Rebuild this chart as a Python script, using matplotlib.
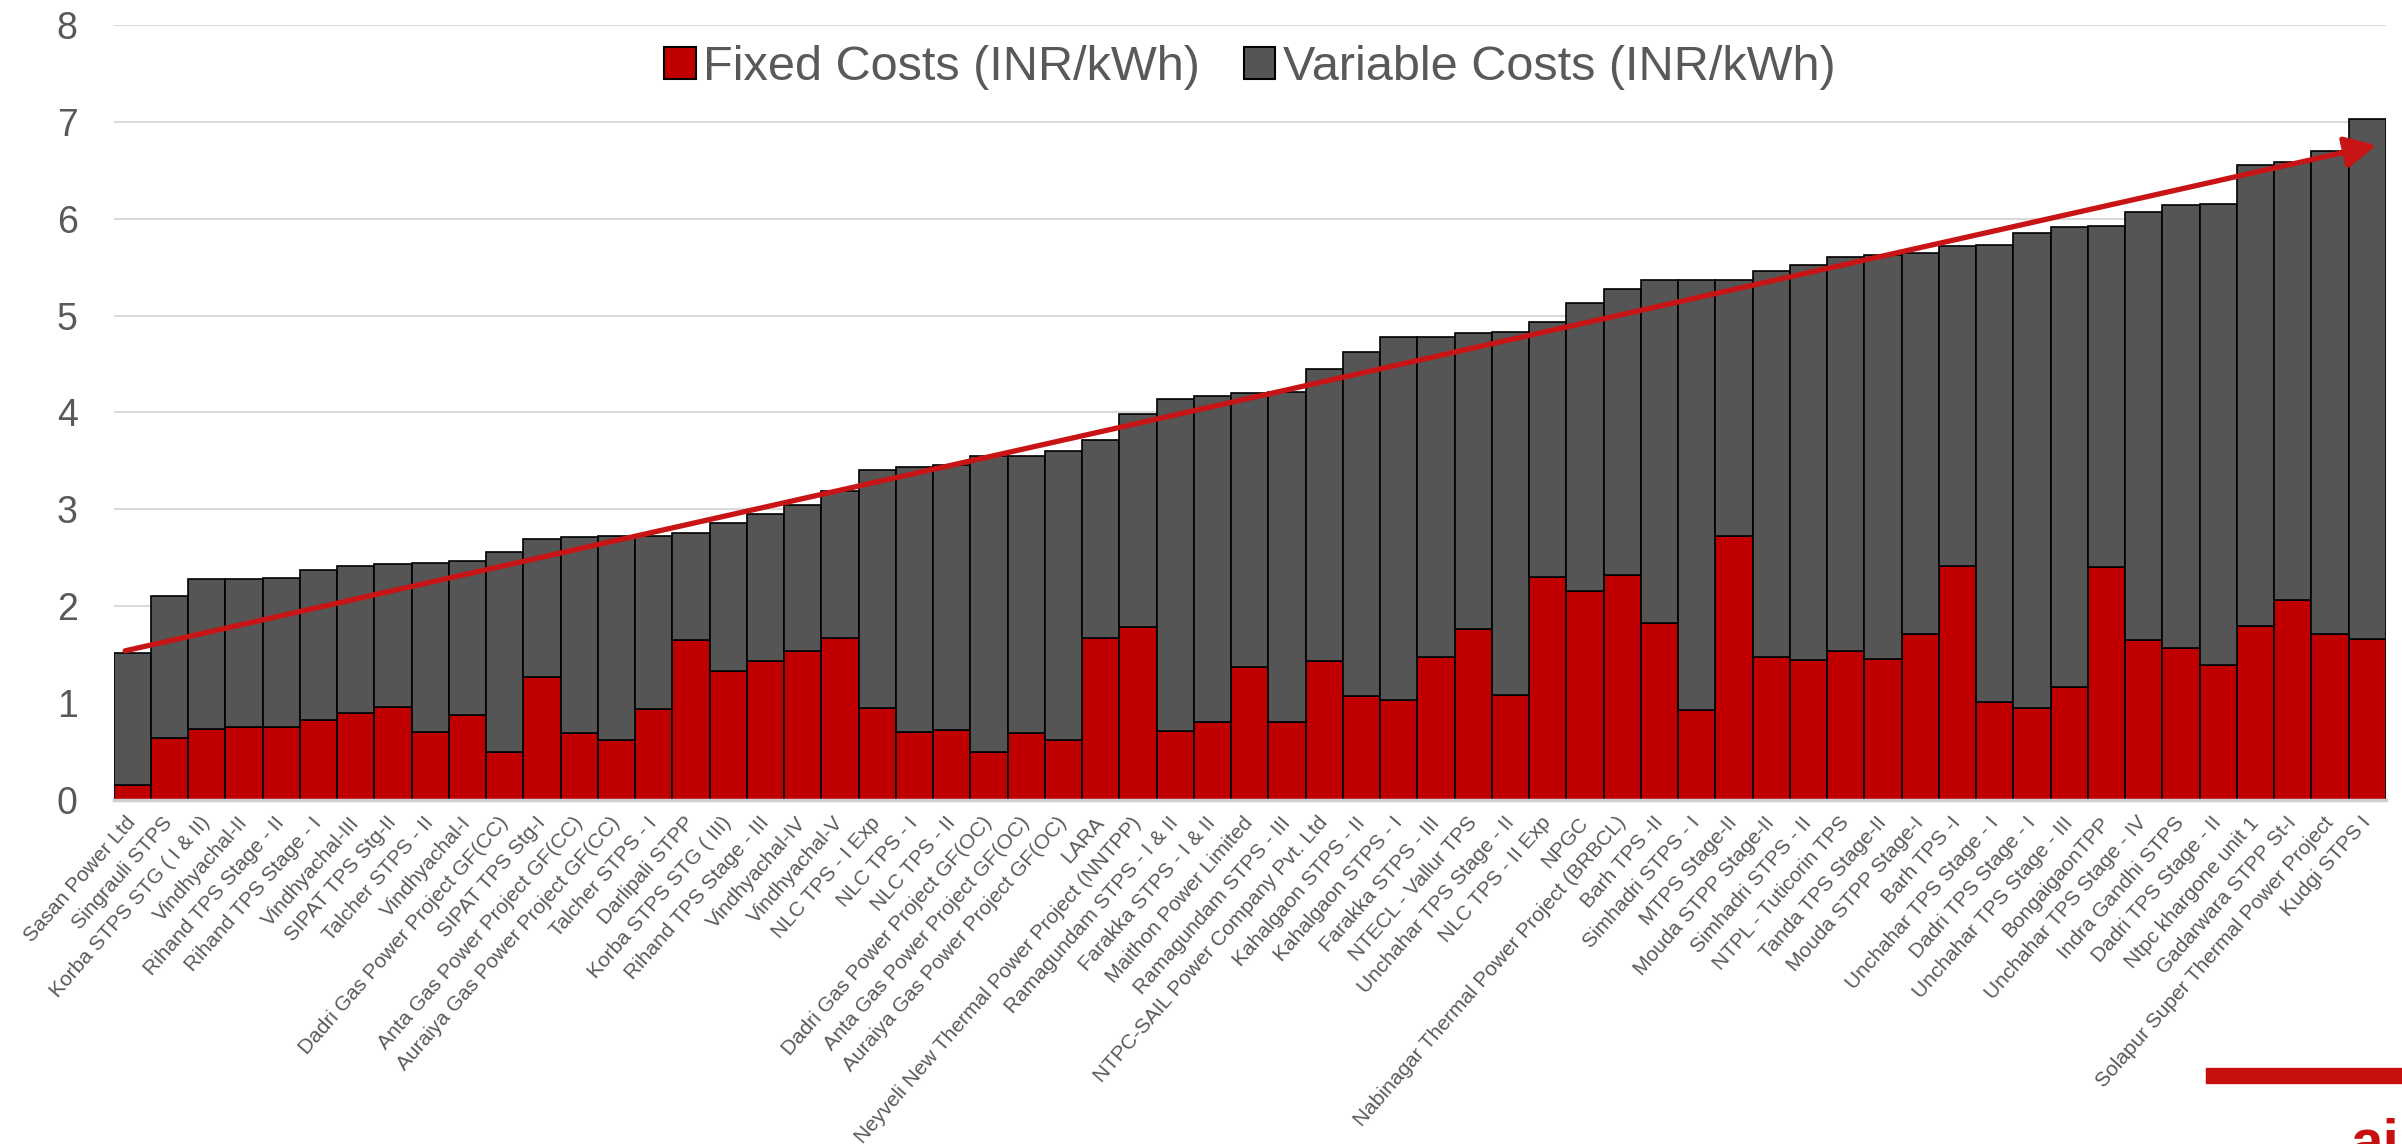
import matplotlib
matplotlib.use("Agg")
import matplotlib.pyplot as plt
import numpy as np

plt.rcParams['font.family'] = ['Liberation Sans', 'DejaVu Sans']

# stations, sorted by total cost
plants = [
    "Sasan Power Ltd", "Singrauli STPS", "Korba STPS STG ( I & II)", "Vindhyachal-II",
    "Rihand TPS Stage - II", "Rihand TPS Stage - I", "Vindhyachal-III", "SIPAT TPS Stg-II",
    "Talcher STPS - II", "Vindhyachal-I", "Dadri Gas Power Project GF(CC)", "SIPAT TPS Stg-I",
    "Anta Gas Power Project GF(CC)", "Auraiya Gas Power Project GF(CC)", "Talcher STPS - I",
    "Darlipali STPP", "Korba STPS STG ( III)", "Rihand TPS Stage - III", "Vindhyachal-IV",
    "Vindhyachal-V", "NLC TPS - I Exp", "NLC TPS - I", "NLC TPS - II",
    "Dadri Gas Power Project GF(OC)", "Anta Gas Power Project GF(OC)",
    "Auraiya Gas Power Project GF(OC)", "LARA", "Neyveli New Thermal Power Project (NNTPP)",
    "Ramagundam STPS - I & II", "Farakka STPS - I & II", "Maithon Power Limited",
    "Ramagundam STPS - III", "NTPC-SAIL Power Company Pvt. Ltd", "Kahalgaon STPS - II",
    "Kahalgaon STPS - I", "Farakka STPS - III", "NTECL - Vallur TPS", "Unchahar TPS Stage - II",
    "NLC TPS - II Exp", "NPGC", "Nabinagar Thermal Power Project (BRBCL)", "Barh TPS -II",
    "Simhadri STPS - I", "MTPS Stage-II", "Mouda STPP Stage-II", "Simhadri STPS - II",
    "NTPL - Tuticorin TPS", "Tanda TPS Stage-II", "Mouda STPP Stage-I", "Barh TPS -I",
    "Unchahar TPS Stage - I", "Dadri TPS Stage - I", "Unchahar TPS Stage - III", "BongaigaonTPP",
    "Unchahar TPS Stage - IV", "Indra Gandhi STPS", "Dadri TPS Stage - II", "Ntpc khargone unit 1",
    "Gadarwara STPP St-I", "Solapur Super Thermal Power Project", "Kudgi STPS I",
]

fixed = [
    0.15, 0.64, 0.73, 0.75, 0.75, 0.83, 0.90, 0.96, 0.70, 0.88,
    0.50, 1.27, 0.69, 0.62, 0.94, 1.65, 1.33, 1.43, 1.54, 1.67,
    0.95, 0.70, 0.72, 0.50, 0.69, 0.62, 1.67, 1.79, 0.71, 0.81,
    1.37, 0.81, 1.43, 1.07, 1.03, 1.48, 1.76, 1.08, 2.30, 2.16,
    2.32, 1.83, 0.93, 2.72, 1.48, 1.44, 1.54, 1.46, 1.71, 2.42,
    1.01, 0.95, 1.17, 2.40, 1.65, 1.57, 1.39, 1.80, 2.06, 1.71,
    1.66,
]

total = [
    1.52, 2.11, 2.28, 2.28, 2.29, 2.37, 2.42, 2.44, 2.45, 2.47,
    2.56, 2.69, 2.71, 2.72, 2.72, 2.76, 2.86, 2.95, 3.05, 3.19,
    3.41, 3.44, 3.46, 3.55, 3.55, 3.60, 3.72, 3.98, 4.14, 4.17,
    4.20, 4.21, 4.45, 4.62, 4.78, 4.78, 4.82, 4.83, 4.93, 5.13,
    5.27, 5.37, 5.37, 5.37, 5.46, 5.52, 5.60, 5.63, 5.65, 5.72,
    5.73, 5.85, 5.91, 5.92, 6.07, 6.14, 6.15, 6.55, 6.59, 6.70,
    7.03,
]

variable = list(np.array(total) - np.array(fixed))

# hand drawn trend arrow (data coords)
trend_start = (-0.19, 1.54)
trend_end = (60.25, 6.76)

RED = '#C00000'
GREY = '#555555'
TXT = '#595959'

fig = plt.figure(figsize=(24.02, 11.44), dpi=100)
ax = fig.add_axes([0.0473, 0.3007, 0.946, 0.6775])

x = np.arange(len(plants))
ax.bar(x, fixed, width=1.0, color=RED, edgecolor='black', linewidth=1.2,
       label='Fixed Costs (INR/kWh)', zorder=3)
ax.bar(x, variable, bottom=fixed, width=1.0, color=GREY, edgecolor='black', linewidth=1.2,
       label='Variable Costs (INR/kWh)', zorder=3)

ax.annotate('', xy=trend_end, xytext=trend_start,
            arrowprops=dict(arrowstyle='-|>', lw=3.8, color='#C81414',
                            mutation_scale=48, shrinkA=0, shrinkB=0), zorder=5)

ax.set_xlim(-0.5, len(plants) - 0.5)
ax.set_ylim(0, 8)
ax.set_yticks(range(0, 9))
ax.grid(axis='y', color='#D9D9D9', linewidth=1.5, zorder=0)
for s in ['top', 'right', 'left']:
    ax.spines[s].set_visible(False)
ax.spines['bottom'].set_color('#D0D0D0')
ax.spines['bottom'].set_linewidth(2.5)
ax.spines['bottom'].set_zorder(4)

ax.tick_params(axis='y', length=0, pad=26, labelsize=27, labelcolor=TXT)
ax.tick_params(axis='x', length=0, pad=14)
ax.set_xticks(x)
ax.set_xticklabels(plants, rotation=49, ha='right', va='center',
                   rotation_mode='anchor', fontsize=15, color=TXT)

leg = ax.legend(loc='upper center', bbox_to_anchor=(0.5, 1.012), ncol=2, frameon=False,
                fontsize=35, handlelength=0.65, handleheight=0.65, handletextpad=0.15,
                columnspacing=0.9, borderaxespad=0.2)
for t in leg.get_texts():
    t.set_color(TXT)
for h in leg.legend_handles:
    h.set_edgecolor('black')
    h.set_linewidth(1.5)

# bits of the slide logo in the corner
fig.patches.append(plt.Rectangle((2206 / 2402, 1 - 1083 / 1144), 1, 15 / 1144,
                                 transform=fig.transFigure, color='#C80F0F', zorder=10))
fig.text(2350 / 2402, 1 - 1118 / 1144, 'ai', color='#C80F0F', fontsize=42,
         fontweight='bold', va='top', ha='left')

fig.savefig('out.png', dpi=100)
